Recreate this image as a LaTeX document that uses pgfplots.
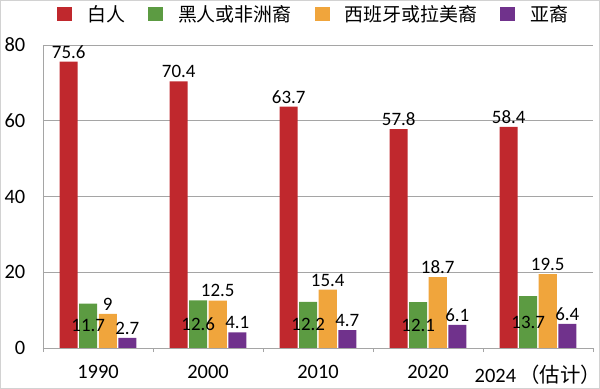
\documentclass[border=0pt]{standalone}
\usepackage{pgfplots}
\pgfplotsset{compat=1.18}
\usepackage{fontspec}
\setmainfont{Carlito}
\newfontfamily\cjk{Noto Sans CJK SC}
\definecolor{cred}{RGB}{192,40,45}
\definecolor{cgreen}{RGB}{92,155,66}
\definecolor{corange}{RGB}{240,165,60}
\definecolor{cpurple}{RGB}{112,50,140}
\definecolor{cgrid}{RGB}{165,165,165}
\begin{document}
\begin{tikzpicture}
\useasboundingbox (0,0) rectangle (600bp,389bp);
\draw[gray!35,line width=1.2bp] (0.6bp,0.6bp) rectangle (599.4bp,388.4bp);
\begin{axis}[
  at={(43bp,41bp)}, anchor=south west,
  scale only axis, width=550bp, height=303bp,
  ybar=1.5bp, bar width=18bp,
  xmin=-0.5, xmax=4.5, ymin=0, ymax=80,
  xtick={0,...,4},
  xticklabels={1990,2000,2010,2020,{2024\,{\cjk （估计）}}},
  minor xtick={-0.5,0.5,...,4.5},
  major x tick style={draw=none},
  minor tick length=4bp,
  tick align=outside,
  ytick={0,20,40,60,80},
  ytick style={draw=none},
  ymajorgrids, grid style={cgrid, line width=0.8bp},
  axis x line*=bottom, axis y line*=left,
  axis line style={cgrid, line width=0.8bp},
  x axis line style={-}, y axis line style={-},
  every minor tick/.style={cgrid, line width=0.8bp},
  /pgf/number format/assume math mode=true,
  tick label style={font=\fontsize{20.5}{22}\selectfont, black},
  yticklabel style={xshift=-10bp},
  xticklabel style={yshift=-9bp},
  nodes near coords,
  every node near coord/.append style={font=\fontsize{19}{21}\selectfont, black},
  point meta=explicit symbolic,
  legend columns=4,
  legend style={draw=none, fill=none, at={(0.0255,1)}, anchor=west, yshift=31bp,
    inner sep=0pt, font=\cjk\fontsize{19}{21}\selectfont,
    /tikz/every odd column/.append style={column sep=13bp},
    /tikz/every even column/.append style={column sep=21bp}},
  legend image code/.code={\fill[#1] (0bp,-7bp) rectangle (15bp,7bp);},
]
\addplot[fill=cred, draw=none] coordinates {(0,75.6)[75.6] (1,70.4)[70.4] (2,63.7)[63.7] (3,57.8)[57.8] (4,58.4)[58.4]};
\addplot[fill=cgreen, draw=none,
  visualization depends on={y \as \rawy},
  every node near coord/.append style={anchor=center, shift={(axis direction cs:0,-\rawy/2)}}]
  coordinates {(0,11.7)[11.7] (1,12.6)[12.6] (2,12.2)[12.2] (3,12.1)[12.1] (4,13.7)[13.7]};
\addplot[fill=corange, draw=none] coordinates {(0,9)[9] (1,12.5)[12.5] (2,15.4)[15.4] (3,18.7)[18.7] (4,19.5)[19.5]};
\addplot[fill=cpurple, draw=none] coordinates {(0,2.7)[2.7] (1,4.1)[4.1] (2,4.7)[4.7] (3,6.1)[6.1] (4,6.4)[6.4]};
\legend{白人,黑人或非洲裔,西班牙或拉美裔,亚裔}
\end{axis}
\end{tikzpicture}
\end{document}
